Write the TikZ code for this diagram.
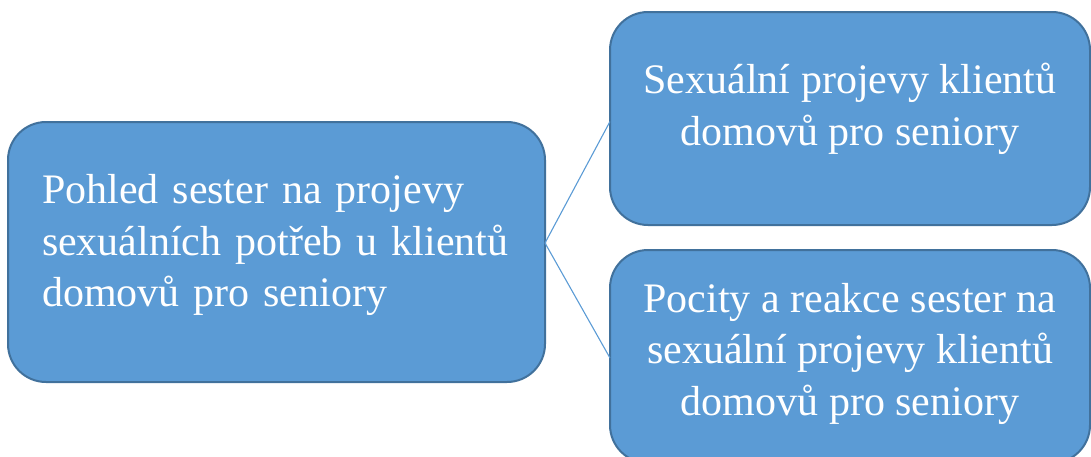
\documentclass[tikz,border=0pt]{standalone}
\usepackage{fontspec}
\setmainfont{Liberation Serif}
\definecolor{boxfill}{HTML}{5B9BD5}
\definecolor{boxline}{HTML}{41719C}
\begin{document}
\begin{tikzpicture}[x=1pt,y=-1pt,
  box/.style={rectangle, rounded corners=38pt, fill=boxfill, draw=boxline,
    line width=2pt, outer sep=0pt, inner sep=0pt, text=white,
    font=\fontsize{42}{51.5}\selectfont},
  link/.style={draw=boxfill, line width=1.1pt}]
\useasboundingbox (0,0) rectangle (1091,456);
\begin{scope}
\clip (0,0) rectangle (1091,456);
\node[box, minimum width=537pt, minimum height=260pt, text width=469pt, align=left]
  (L) at (276.5,252) {Pohled sester na projevy\\ sexuálních potřeb u klientů\\ domovů pro seniory\rule[-23pt]{0pt}{1pt}};
\node[box, minimum width=480pt, minimum height=213pt, align=center]
  (T) at (850,118.5) {Sexuální projevy klientů\\ domovů pro seniory\rule[-28pt]{0pt}{1pt}};
\node[box, minimum width=480pt, minimum height=213pt, align=center]
  (B) at (850,356.5) {Pocity a reakce sester na\\ sexuální projevy klientů\\ domovů pro seniory\rule[-15pt]{0pt}{1pt}};
\end{scope}
\coordinate (J) at ([yshift=9pt]L.east);
\draw[link] (J) -- ([yshift=-3pt]T.west);
\draw[link] (J) -- ([yshift=-1.5pt]B.west);
\end{tikzpicture}
\end{document}
